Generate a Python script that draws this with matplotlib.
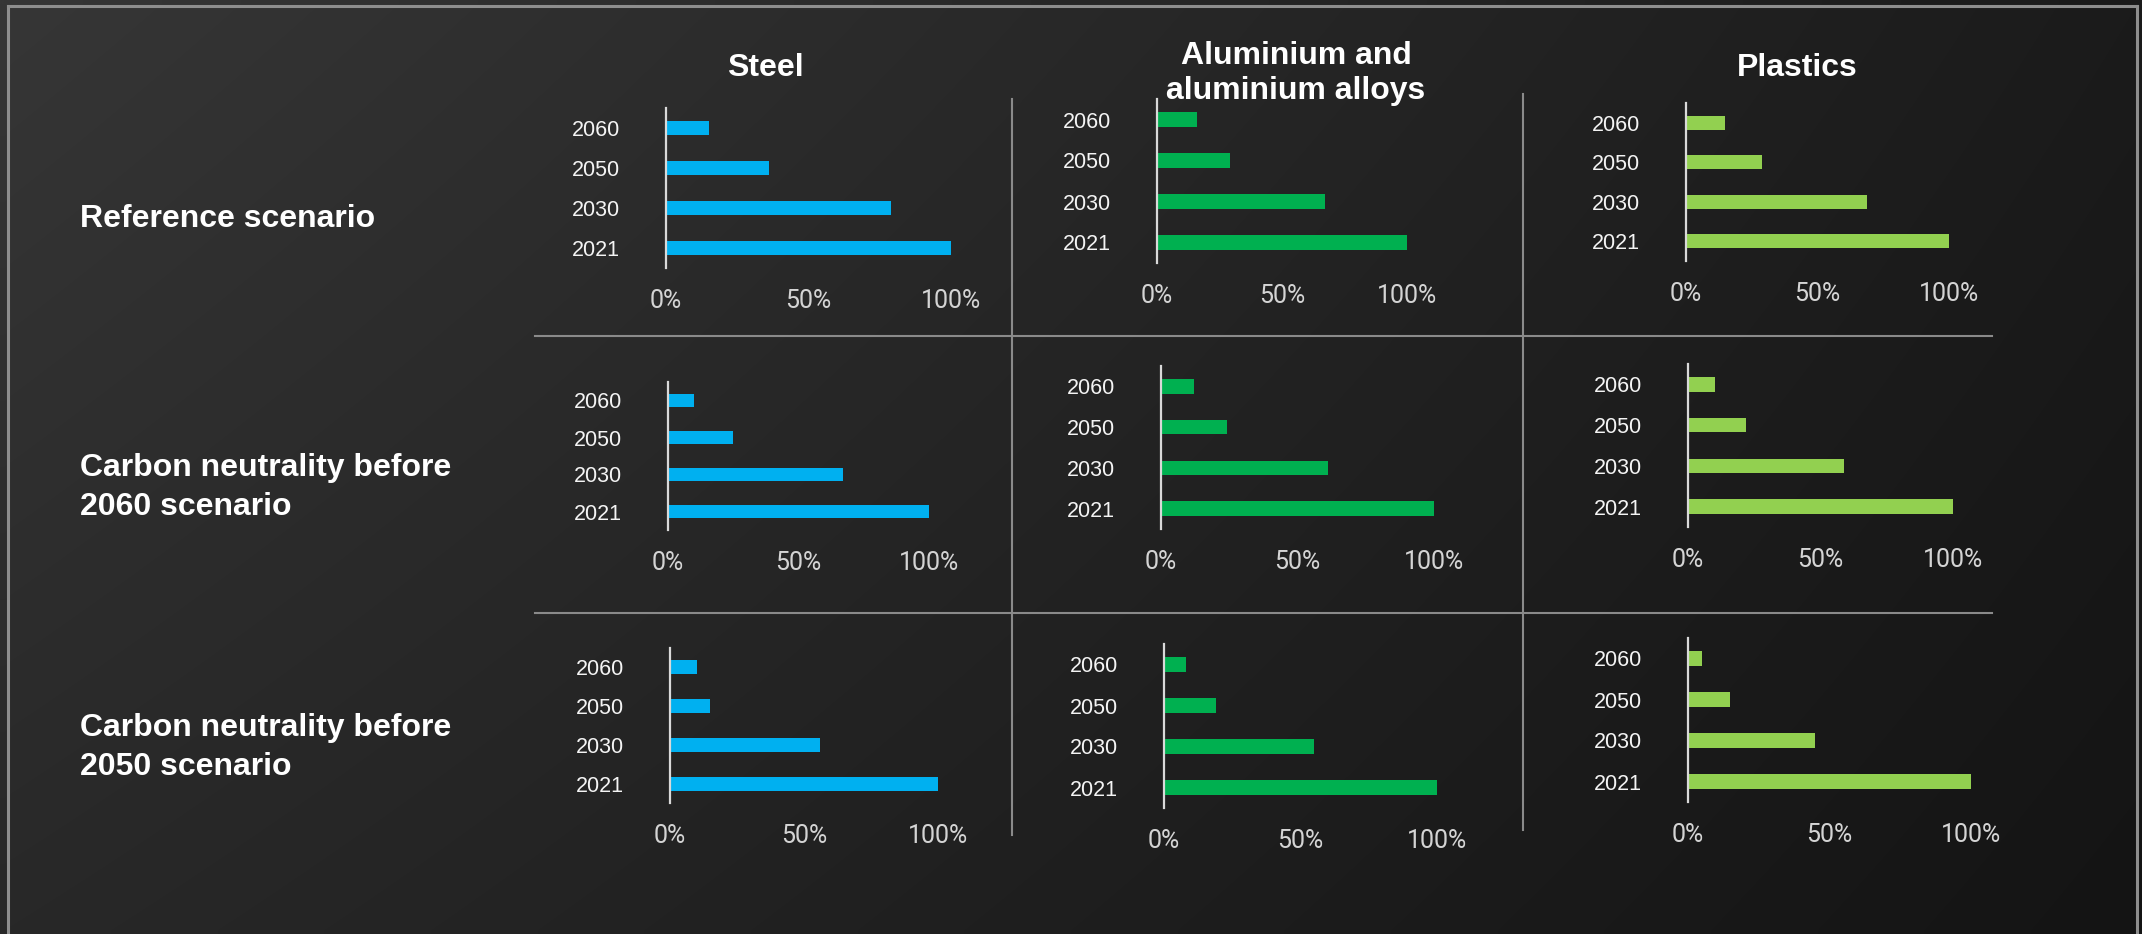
import numpy as np
import matplotlib
matplotlib.use("Agg")
import matplotlib.pyplot as plt

# ---- data -------------------------------------------------------------
years = ["2021", "2030", "2050", "2060"]
materials = ["Steel", "Aluminium and\naluminium alloys", "Plastics"]
scenarios = ["Reference scenario",
             "Carbon neutrality before\n2060 scenario",
             "Carbon neutrality before\n2050 scenario"]
tick_values = [0, 50, 100]
tick_labels = ["0%", "50%", "100%"]

# relative demand (% of 2021), order follows `years`
steel_reference = [100, 79, 36, 15]
steel_cn2060 = [100, 67, 25, 10]
steel_cn2050 = [100, 56, 15, 10]

aluminium_reference = [100, 67, 29, 16]
aluminium_cn2060 = [100, 61, 24, 12]
aluminium_cn2050 = [100, 55, 19, 8]

plastics_reference = [100, 69, 29, 15]
plastics_cn2060 = [100, 59, 22, 10]
plastics_cn2050 = [100, 45, 15, 5]

values = [
    [steel_reference, aluminium_reference, plastics_reference],
    [steel_cn2060, aluminium_cn2060, plastics_cn2060],
    [steel_cn2050, aluminium_cn2050, plastics_cn2050],
]
colors = ["#00B0F0", "#00B050", "#92D050"]

# ---- figure / canvas --------------------------------------------------
W, H = 2142, 934
fig = plt.figure(figsize=(W / 100, H / 100), dpi=100)

bg = fig.add_axes([0, 0, 1, 1])
bg.set_xlim(0, W)
bg.set_ylim(H, 0)
bg.axis("off")

# diagonal dark gradient
corners = np.array([[54, 27], [40, 20]]) / 255.0  # [top-left, top-right], [bottom-left, bottom-right]
u = np.linspace(0, 1, 256)[None, :]
v = np.linspace(0, 1, 128)[:, None]
top = corners[0, 0] + (corners[0, 1] - corners[0, 0]) * u
bot = corners[1, 0] + (corners[1, 1] - corners[1, 0]) * u
grad = top + (bot - top) * v
rgb = np.dstack([grad, grad, grad])
bg.imshow(rgb, extent=(0, W, H, 0), aspect="auto", interpolation="bilinear", zorder=0)

# slide frame
frame_c = "#8e8e8e"
bg.plot([8, 8], [6, H + 5], color=frame_c, lw=2.2, zorder=1)
bg.plot([8, W - 5], [6, 6], color=frame_c, lw=2.2, zorder=1)
bg.plot([W - 5, W - 5], [6, H + 5], color=frame_c, lw=2.2, zorder=1)

# table dividers
div_c = "#8a8a8a"
for yy in (336, 613):
    bg.plot([535, 1992], [yy, yy], color=div_c, lw=1.5, zorder=1)
bg.plot([1012, 1012], [99, 835], color=div_c, lw=1.5, zorder=1)
bg.plot([1523, 1523], [94, 830], color=div_c, lw=1.5, zorder=1)

title_font = dict(family=["Liberation Sans", "DejaVu Sans"], weight="bold",
                  size=23, color="white")

# column headers
col_centers = [765, 1296, 1797]
col_baselines = [[76], [64, 99], [76]]
for name, cx, bls in zip(materials, col_centers, col_baselines):
    for line, bl in zip(name.split("\n"), bls):
        bg.text(cx, bl, line, ha="center", va="baseline", **title_font)

# row headers
row_baselines = [[227], [476], [736]]
row_step = 39
for name, bls in zip(scenarios, row_baselines):
    for i, line in enumerate(name.split("\n")):
        bg.text(80, bls[0] + i * row_step, line, ha="left", va="baseline", **title_font)

# panel frames in pixels: (x at 0%, x at 100%, top, bottom)
panels = [
    [(666, 951, 108, 268), (1157, 1407, 99, 263), (1686, 1949, 103, 261)],
    [(668, 929, 382, 530), (1161, 1434, 366, 529), (1688, 1953, 364, 527)],
    [(670, 938, 648, 803), (1164, 1437, 644, 808), (1688, 1971, 638, 802)],
]

pos = np.arange(len(years))
for r in range(3):
    for c in range(3):
        x0, x1, yt, yb = panels[r][c]
        ax = fig.add_axes([x0 / W, 1 - yb / H, (x1 - x0) / W, (yb - yt) / H])
        ax.patch.set_alpha(0)
        ax.barh(pos, values[r][c], height=0.36, color=colors[c], zorder=2)
        ax.set_xlim(0, 100)
        ax.set_ylim(-0.5, 3.5)
        for s in ("top", "right", "bottom"):
            ax.spines[s].set_visible(False)
        ax.spines["left"].set_color("#d9d9d9")
        ax.spines["left"].set_linewidth(1.6)
        ax.spines["left"].set_zorder(3)
        ax.set_yticks(pos)
        ax.set_yticklabels(years, family=["Liberation Sans", "DejaVu Sans"],
                           size=15.5, color="#f4f4f4")
        ax.set_xticks(tick_values)
        ax.set_xticklabels(tick_labels, family=["Roboto", "DejaVu Sans"],
                           weight="normal", size=18, color="#d4d4d4")
        ax.tick_params(axis="y", length=0, pad=33)
        ax.tick_params(axis="x", length=0, pad=15)

fig.savefig("out.png", dpi=100)
